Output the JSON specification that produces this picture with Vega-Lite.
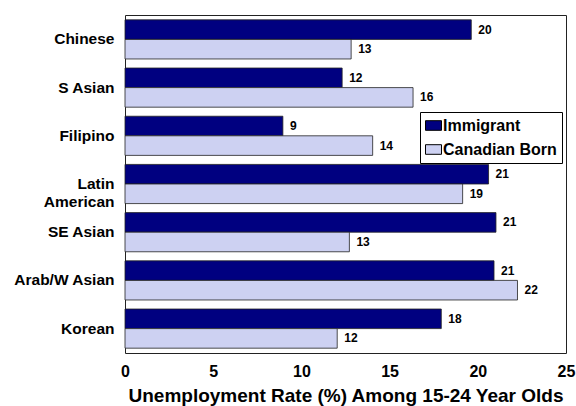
{
  "$schema": "https://vega.github.io/schema/vega-lite/v6.json",
  "autosize": "none",
  "width": 441,
  "height": 338,
  "padding": {"left": 125, "top": 15, "right": 10, "bottom": 53},
  "background": "white",
  "config": {
    "view": {"stroke": "#222", "strokeWidth": 1},
    "font": "Liberation Sans"
  },
  "data": {
    "values": [
      {"group": "Chinese", "series": "Immigrant", "value": 19.63},
      {"group": "Chinese", "series": "Canadian Born", "value": 12.82},
      {"group": "S Asian", "series": "Immigrant", "value": 12.31},
      {"group": "S Asian", "series": "Canadian Born", "value": 16.33},
      {"group": "Filipino", "series": "Immigrant", "value": 8.95},
      {"group": "Filipino", "series": "Canadian Born", "value": 14.04},
      {"group": "Latin American", "series": "Immigrant", "value": 20.61},
      {"group": "Latin American", "series": "Canadian Born", "value": 19.14},
      {"group": "SE Asian", "series": "Immigrant", "value": 21.03},
      {"group": "SE Asian", "series": "Canadian Born", "value": 12.72},
      {"group": "Arab/W Asian", "series": "Immigrant", "value": 20.92},
      {"group": "Arab/W Asian", "series": "Canadian Born", "value": 22.25},
      {"group": "Korean", "series": "Immigrant", "value": 17.93},
      {"group": "Korean", "series": "Canadian Born", "value": 12.03}
    ]
  },
  "encoding": {
    "y": {
      "field": "group",
      "type": "nominal",
      "sort": ["Chinese", "S Asian", "Filipino", "Latin American", "SE Asian", "Arab/W Asian", "Korean"],
      "scale": {"paddingInner": 0.1875, "paddingOuter": 0.1},
      "axis": {
        "title": null,
        "domain": false,
        "ticks": false,
        "labelPadding": 11,
        "labelFont": "Liberation Sans",
        "labelFontWeight": "bold",
        "labelFontSize": 15.5,
        "labelColor": "#000",
        "labelLineHeight": 18,
        "labelExpr": "datum.value == 'Latin American' ? ['Latin', 'American'] : datum.value"
      }
    },
    "yOffset": {
      "field": "series",
      "type": "nominal",
      "sort": ["Immigrant", "Canadian Born"],
      "scale": {"paddingInner": 0, "paddingOuter": 0}
    },
    "x": {
      "field": "value",
      "type": "quantitative",
      "scale": {"domain": [0, 25], "nice": false},
      "axis": {
        "values": [0, 5, 10, 15, 20, 25],
        "grid": false,
        "ticks": false,
        "domain": false,
        "labelPadding": 10,
        "labelFont": "Liberation Sans",
        "labelFontWeight": "bold",
        "labelFontSize": 16,
        "labelColor": "#000",
        "labelFlush": false,
        "title": "Unemployment Rate (%) Among 15-24 Year Olds",
        "titleFont": "Liberation Sans",
        "titleFontWeight": "bold",
        "titleFontSize": 19,
        "titleColor": "#000",
        "titlePadding": 7
      }
    }
  },
  "layer": [
    {
      "mark": {"type": "bar", "stroke": "#222", "strokeWidth": 0.8},
      "encoding": {
        "color": {
          "field": "series",
          "type": "nominal",
          "scale": {"domain": ["Immigrant", "Canadian Born"], "range": ["#000080", "#cdd1f2"]},
          "legend": {
            "title": null,
            "orient": "none",
            "legendX": 295,
            "legendY": 97,
            "direction": "vertical",
            "fillColor": "white",
            "strokeColor": "#000",
            "padding": 5,
            "labelFont": "Liberation Sans",
            "labelFontWeight": "bold",
            "labelFontSize": 16,
            "labelColor": "#000",
            "labelOffset": 1,
            "rowPadding": 7,
            "symbolType": "M-1,-0.6H1V0.6H-1Z",
            "symbolSize": 256,
            "symbolStrokeColor": "#000",
            "symbolStrokeWidth": 1,
            "symbolOpacity": 1
          }
        }
      }
    },
    {
      "mark": {"type": "text", "align": "left", "baseline": "middle", "dx": 7, "fontWeight": "bold", "fontSize": 12, "font": "Liberation Sans", "color": "#000"},
      "encoding": {
        "text": {"field": "value", "type": "quantitative", "format": ".0f"}
      }
    }
  ]
}
